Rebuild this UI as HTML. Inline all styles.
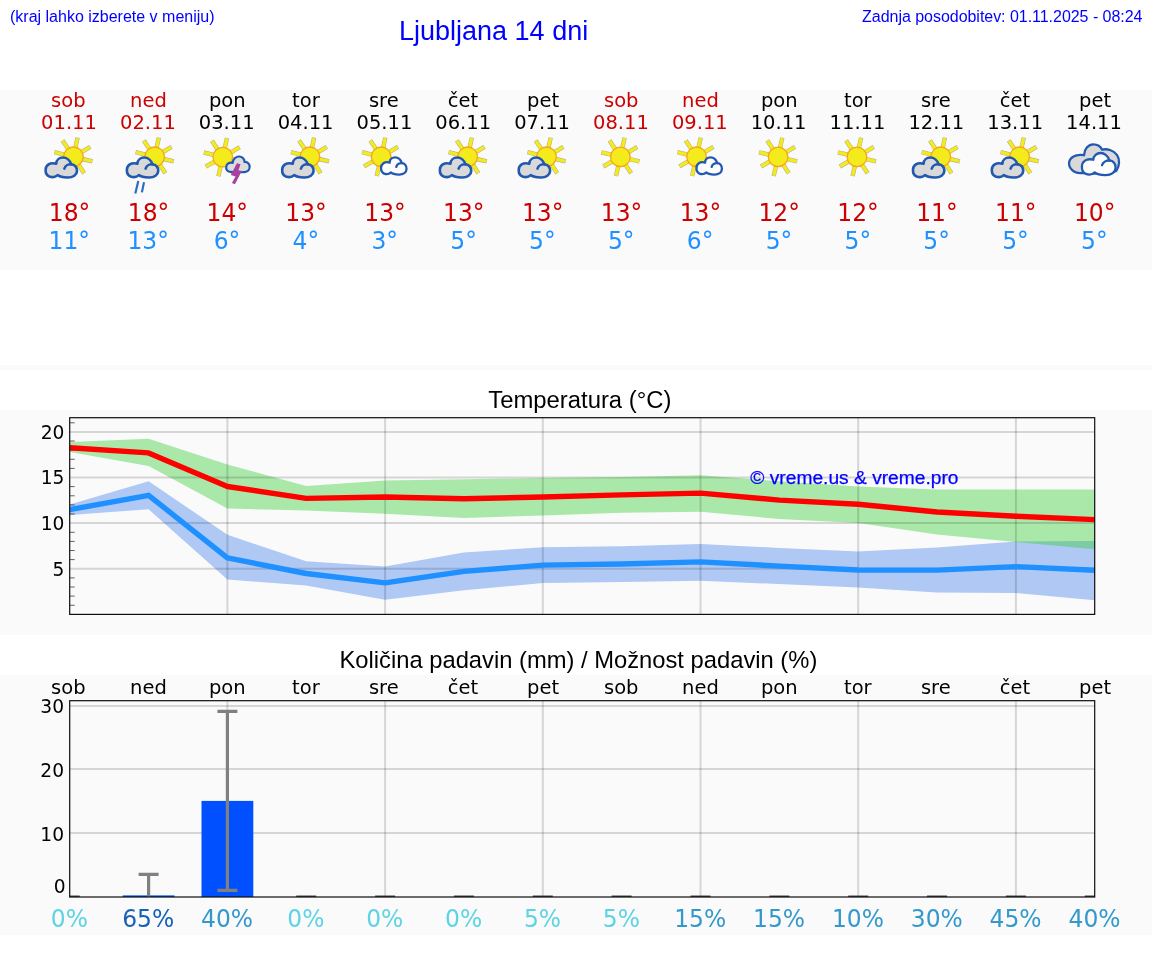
<!DOCTYPE html>
<html lang="sl"><head><meta charset="utf-8"><title>Ljubljana 14 dni</title>
<style>
html,body{margin:0;padding:0;background:#fff}
svg{display:block}
.dv{font-family:"DejaVu Sans","Liberation Sans",sans-serif}
.ar{font-family:"Liberation Sans",Arial,sans-serif}
</style></head><body>
<svg width="1152" height="975" viewBox="0 0 1152 975">
<rect width="1152" height="975" fill="#fff"/>
<rect x="0" y="90" width="1152" height="180" fill="#fafafa"/>
<rect x="0" y="365" width="1152" height="5" fill="#fafafa"/>
<rect x="0" y="410" width="1152" height="225" fill="#fafafa"/>
<rect x="0" y="675" width="1152" height="260" fill="#fafafa"/>
<g class="ar" fill="#0000ff">
<text x="10" y="21.5" font-size="16">(kraj lahko izberete v meniju)</text>
<text x="399" y="39.6" font-size="27">Ljubljana 14 dni</text>
<text x="1142.5" y="21.5" font-size="16" text-anchor="end" textLength="280.4">Zadnja posodobitev: 01.11.2025 - 08:24</text>
</g>
<g class="dv" text-anchor="middle">
<text transform="translate(68.3 106.7) scale(0.975 1)" font-size="20" fill="#cc0000">sob</text><text transform="translate(69.0 129.0) scale(0.975 1)" font-size="20" fill="#cc0000">01.11</text><text transform="translate(69.6 220.7) scale(0.975 1)" font-size="24" fill="#cc0000">18°</text><text transform="translate(69.3 248.7) scale(0.975 1)" font-size="24" fill="#1e90ff">11°</text>
<text transform="translate(148.4 106.7) scale(0.975 1)" font-size="20" fill="#cc0000">ned</text><text transform="translate(147.9 129.0) scale(0.975 1)" font-size="20" fill="#cc0000">02.11</text><text transform="translate(148.5 220.7) scale(0.975 1)" font-size="24" fill="#cc0000">18°</text><text transform="translate(148.2 248.7) scale(0.975 1)" font-size="24" fill="#1e90ff">13°</text>
<text transform="translate(227.3 106.7) scale(0.975 1)" font-size="20" fill="#000">pon</text><text transform="translate(226.7 129.0) scale(0.975 1)" font-size="20" fill="#000">03.11</text><text transform="translate(227.3 220.7) scale(0.975 1)" font-size="24" fill="#cc0000">14°</text><text transform="translate(227.0 248.7) scale(0.975 1)" font-size="24" fill="#1e90ff">6°</text>
<text transform="translate(305.9 106.7) scale(0.975 1)" font-size="20" fill="#000">tor</text><text transform="translate(305.6 129.0) scale(0.975 1)" font-size="20" fill="#000">04.11</text><text transform="translate(306.1 220.7) scale(0.975 1)" font-size="24" fill="#cc0000">13°</text><text transform="translate(305.9 248.7) scale(0.975 1)" font-size="24" fill="#1e90ff">4°</text>
<text transform="translate(383.8 106.7) scale(0.975 1)" font-size="20" fill="#000">sre</text><text transform="translate(384.4 129.0) scale(0.975 1)" font-size="20" fill="#000">05.11</text><text transform="translate(385.0 220.7) scale(0.975 1)" font-size="24" fill="#cc0000">13°</text><text transform="translate(384.7 248.7) scale(0.975 1)" font-size="24" fill="#1e90ff">3°</text>
<text transform="translate(463.0 106.7) scale(0.975 1)" font-size="20" fill="#000">čet</text><text transform="translate(463.2 129.0) scale(0.975 1)" font-size="20" fill="#000">06.11</text><text transform="translate(463.8 220.7) scale(0.975 1)" font-size="24" fill="#cc0000">13°</text><text transform="translate(463.6 248.7) scale(0.975 1)" font-size="24" fill="#1e90ff">5°</text>
<text transform="translate(543.1 106.7) scale(0.975 1)" font-size="20" fill="#000">pet</text><text transform="translate(542.1 129.0) scale(0.975 1)" font-size="20" fill="#000">07.11</text><text transform="translate(542.7 220.7) scale(0.975 1)" font-size="24" fill="#cc0000">13°</text><text transform="translate(542.4 248.7) scale(0.975 1)" font-size="24" fill="#1e90ff">5°</text>
<text transform="translate(621.2 106.7) scale(0.975 1)" font-size="20" fill="#cc0000">sob</text><text transform="translate(620.9 129.0) scale(0.975 1)" font-size="20" fill="#cc0000">08.11</text><text transform="translate(621.5 220.7) scale(0.975 1)" font-size="24" fill="#cc0000">13°</text><text transform="translate(621.2 248.7) scale(0.975 1)" font-size="24" fill="#1e90ff">5°</text>
<text transform="translate(700.4 106.7) scale(0.975 1)" font-size="20" fill="#cc0000">ned</text><text transform="translate(699.8 129.0) scale(0.975 1)" font-size="20" fill="#cc0000">09.11</text><text transform="translate(700.4 220.7) scale(0.975 1)" font-size="24" fill="#cc0000">13°</text><text transform="translate(700.1 248.7) scale(0.975 1)" font-size="24" fill="#1e90ff">6°</text>
<text transform="translate(779.3 106.7) scale(0.975 1)" font-size="20" fill="#000">pon</text><text transform="translate(778.6 129.0) scale(0.975 1)" font-size="20" fill="#000">10.11</text><text transform="translate(779.2 220.7) scale(0.975 1)" font-size="24" fill="#cc0000">12°</text><text transform="translate(779.0 248.7) scale(0.975 1)" font-size="24" fill="#1e90ff">5°</text>
<text transform="translate(857.8 106.7) scale(0.975 1)" font-size="20" fill="#000">tor</text><text transform="translate(857.5 129.0) scale(0.975 1)" font-size="20" fill="#000">11.11</text><text transform="translate(858.1 220.7) scale(0.975 1)" font-size="24" fill="#cc0000">12°</text><text transform="translate(857.8 248.7) scale(0.975 1)" font-size="24" fill="#1e90ff">5°</text>
<text transform="translate(935.8 106.7) scale(0.975 1)" font-size="20" fill="#000">sre</text><text transform="translate(936.3 129.0) scale(0.975 1)" font-size="20" fill="#000">12.11</text><text transform="translate(936.9 220.7) scale(0.975 1)" font-size="24" fill="#cc0000">11°</text><text transform="translate(936.6 248.7) scale(0.975 1)" font-size="24" fill="#1e90ff">5°</text>
<text transform="translate(1015.0 106.7) scale(0.975 1)" font-size="20" fill="#000">čet</text><text transform="translate(1015.2 129.0) scale(0.975 1)" font-size="20" fill="#000">13.11</text><text transform="translate(1015.8 220.7) scale(0.975 1)" font-size="24" fill="#cc0000">11°</text><text transform="translate(1015.5 248.7) scale(0.975 1)" font-size="24" fill="#1e90ff">5°</text>
<text transform="translate(1095.1 106.7) scale(0.975 1)" font-size="20" fill="#000">pet</text><text transform="translate(1094.0 129.0) scale(0.975 1)" font-size="20" fill="#000">14.11</text><text transform="translate(1094.7 220.7) scale(0.975 1)" font-size="24" fill="#cc0000">10°</text><text transform="translate(1094.3 248.7) scale(0.975 1)" font-size="24" fill="#1e90ff">5°</text>
</g>
<filter id="sf" x="-5%" y="-5%" width="110%" height="110%"><feGaussianBlur stdDeviation="0.35"/></filter>
<g filter="url(#sf)">
<line x1="75.42" y1="147.52" x2="77.58" y2="137.65" stroke="#b3b190" stroke-width="4.4"/><line x1="75.42" y1="147.52" x2="77.49" y2="138.04" stroke="#f3eb1c" stroke-width="3.3"/><line x1="81.59" y1="151.98" x2="90.29" y2="146.85" stroke="#b3b190" stroke-width="4.4"/><line x1="81.59" y1="151.98" x2="89.94" y2="147.06" stroke="#f3eb1c" stroke-width="3.3"/><line x1="82.64" y1="159.00" x2="92.47" y2="161.34" stroke="#b3b190" stroke-width="4.4"/><line x1="82.64" y1="159.00" x2="92.08" y2="161.25" stroke="#f3eb1c" stroke-width="3.3"/><line x1="78.60" y1="164.75" x2="84.13" y2="173.20" stroke="#b3b190" stroke-width="4.4"/><line x1="78.60" y1="164.75" x2="83.91" y2="172.87" stroke="#f3eb1c" stroke-width="3.3"/><line x1="71.26" y1="166.06" x2="68.99" y2="175.90" stroke="#b3b190" stroke-width="4.4"/><line x1="71.26" y1="166.06" x2="69.08" y2="175.51" stroke="#f3eb1c" stroke-width="3.3"/><line x1="65.11" y1="161.43" x2="56.29" y2="166.36" stroke="#b3b190" stroke-width="4.4"/><line x1="65.11" y1="161.43" x2="56.64" y2="166.17" stroke="#f3eb1c" stroke-width="3.3"/><line x1="64.17" y1="154.57" x2="54.35" y2="152.19" stroke="#b3b190" stroke-width="4.4"/><line x1="64.17" y1="154.57" x2="54.74" y2="152.29" stroke="#f3eb1c" stroke-width="3.3"/><line x1="68.13" y1="148.90" x2="62.53" y2="140.49" stroke="#b3b190" stroke-width="4.4"/><line x1="68.13" y1="148.90" x2="62.75" y2="140.83" stroke="#f3eb1c" stroke-width="3.3"/><circle cx="73.40" cy="156.80" r="9.8" fill="#f3eb1c" stroke="#f8a51d" stroke-width="1.3"/>
<path d="M 57.57 175.11 C 55.54 177.08 51.85 177.38 49.38 176.46 C 46.62 175.35 45.51 172.77 45.63 169.69 C 45.75 165.38 49.69 162.00 56.22 163.66 C 56.34 159.85 59.54 157.57 62.92 157.57 C 66.62 157.57 70.00 160.46 71.23 164.28 C 74.92 164.28 77.14 167.54 77.02 170.92 C 76.89 174.92 73.08 177.69 67.54 177.57 C 63.23 177.45 59.54 176.77 57.57 175.11 Z" fill="#d9d9d9" stroke="#2158b0" stroke-width="2.6" stroke-linejoin="round"/><path d="M 71.54 164.40 C 68.77 164.03 65.38 165.38 64.34 168.58" fill="none" stroke="#2158b0" stroke-width="2.6" stroke-linecap="round"/>
<line x1="156.67" y1="147.52" x2="158.83" y2="137.65" stroke="#b3b190" stroke-width="4.4"/><line x1="156.67" y1="147.52" x2="158.74" y2="138.04" stroke="#f3eb1c" stroke-width="3.3"/><line x1="162.84" y1="151.98" x2="171.54" y2="146.85" stroke="#b3b190" stroke-width="4.4"/><line x1="162.84" y1="151.98" x2="171.19" y2="147.06" stroke="#f3eb1c" stroke-width="3.3"/><line x1="163.89" y1="159.00" x2="173.72" y2="161.34" stroke="#b3b190" stroke-width="4.4"/><line x1="163.89" y1="159.00" x2="173.33" y2="161.25" stroke="#f3eb1c" stroke-width="3.3"/><line x1="159.85" y1="164.75" x2="165.38" y2="173.20" stroke="#b3b190" stroke-width="4.4"/><line x1="159.85" y1="164.75" x2="165.16" y2="172.87" stroke="#f3eb1c" stroke-width="3.3"/><line x1="152.51" y1="166.06" x2="150.24" y2="175.90" stroke="#b3b190" stroke-width="4.4"/><line x1="152.51" y1="166.06" x2="150.33" y2="175.51" stroke="#f3eb1c" stroke-width="3.3"/><line x1="146.36" y1="161.43" x2="137.54" y2="166.36" stroke="#b3b190" stroke-width="4.4"/><line x1="146.36" y1="161.43" x2="137.89" y2="166.17" stroke="#f3eb1c" stroke-width="3.3"/><line x1="145.42" y1="154.57" x2="135.60" y2="152.19" stroke="#b3b190" stroke-width="4.4"/><line x1="145.42" y1="154.57" x2="135.99" y2="152.29" stroke="#f3eb1c" stroke-width="3.3"/><line x1="149.38" y1="148.90" x2="143.78" y2="140.49" stroke="#b3b190" stroke-width="4.4"/><line x1="149.38" y1="148.90" x2="144.00" y2="140.83" stroke="#f3eb1c" stroke-width="3.3"/><circle cx="154.65" cy="156.80" r="9.8" fill="#f3eb1c" stroke="#f8a51d" stroke-width="1.3"/>
<path d="M 138.82 175.11 C 136.79 177.08 133.10 177.38 130.63 176.46 C 127.87 175.35 126.76 172.77 126.88 169.69 C 127.00 165.38 130.94 162.00 137.47 163.66 C 137.59 159.85 140.79 157.57 144.17 157.57 C 147.87 157.57 151.25 160.46 152.48 164.28 C 156.17 164.28 158.39 167.54 158.27 170.92 C 158.14 174.92 154.33 177.69 148.79 177.57 C 144.48 177.45 140.79 176.77 138.82 175.11 Z" fill="#d9d9d9" stroke="#2158b0" stroke-width="2.6" stroke-linejoin="round"/><path d="M 152.79 164.40 C 150.02 164.03 146.63 165.38 145.59 168.58" fill="none" stroke="#2158b0" stroke-width="2.6" stroke-linecap="round"/>
<path d="M 138.3 181 L 135.3 193.6 M 144.0 182.2 L 141.9 192.4" stroke="#2f6cc0" stroke-width="2.2" fill="none"/>
<line x1="224.82" y1="147.82" x2="226.98" y2="137.95" stroke="#b3b190" stroke-width="4.4"/><line x1="224.82" y1="147.82" x2="226.89" y2="138.34" stroke="#f3eb1c" stroke-width="3.3"/><line x1="230.99" y1="152.28" x2="239.69" y2="147.15" stroke="#b3b190" stroke-width="4.4"/><line x1="230.99" y1="152.28" x2="239.34" y2="147.36" stroke="#f3eb1c" stroke-width="3.3"/><line x1="232.04" y1="159.30" x2="241.87" y2="161.64" stroke="#b3b190" stroke-width="4.4"/><line x1="232.04" y1="159.30" x2="241.48" y2="161.55" stroke="#f3eb1c" stroke-width="3.3"/><line x1="228.00" y1="165.05" x2="233.53" y2="173.50" stroke="#b3b190" stroke-width="4.4"/><line x1="228.00" y1="165.05" x2="233.31" y2="173.17" stroke="#f3eb1c" stroke-width="3.3"/><line x1="220.66" y1="166.36" x2="218.39" y2="176.20" stroke="#b3b190" stroke-width="4.4"/><line x1="220.66" y1="166.36" x2="218.48" y2="175.81" stroke="#f3eb1c" stroke-width="3.3"/><line x1="214.51" y1="161.73" x2="205.69" y2="166.66" stroke="#b3b190" stroke-width="4.4"/><line x1="214.51" y1="161.73" x2="206.04" y2="166.47" stroke="#f3eb1c" stroke-width="3.3"/><line x1="213.57" y1="154.87" x2="203.75" y2="152.49" stroke="#b3b190" stroke-width="4.4"/><line x1="213.57" y1="154.87" x2="204.14" y2="152.59" stroke="#f3eb1c" stroke-width="3.3"/><line x1="217.53" y1="149.20" x2="211.93" y2="140.79" stroke="#b3b190" stroke-width="4.4"/><line x1="217.53" y1="149.20" x2="212.15" y2="141.13" stroke="#f3eb1c" stroke-width="3.3"/><circle cx="222.80" cy="157.10" r="9.8" fill="#f3eb1c" stroke="#f8a51d" stroke-width="1.3"/>
<path d="M 230.23 171.85 C 227.15 171.66 225.80 169.08 226.23 166.62 C 226.66 163.54 229.62 162.00 232.69 162.92 C 233.00 158.62 236.38 156.28 239.46 156.52 C 242.85 156.77 244.69 159.54 244.51 162.00 C 247.46 161.69 249.80 164.15 249.62 167.23 C 249.43 170.31 246.85 172.15 243.77 172.03 C 240.08 172.46 233.92 172.15 230.23 171.85 Z" fill="#dcdcdc" stroke="#2158b0" stroke-width="2.2" stroke-linejoin="round"/><path d="M 236.88 163.29 L 240.57 164.15 L 238.35 170.18 L 241.80 170.92 L 234.91 184.15 L 231.95 183.11 L 235.52 176.46 L 230.85 175.11 Z" fill="#a7409e"/>
<line x1="311.97" y1="147.52" x2="314.13" y2="137.65" stroke="#b3b190" stroke-width="4.4"/><line x1="311.97" y1="147.52" x2="314.04" y2="138.04" stroke="#f3eb1c" stroke-width="3.3"/><line x1="318.14" y1="151.98" x2="326.84" y2="146.85" stroke="#b3b190" stroke-width="4.4"/><line x1="318.14" y1="151.98" x2="326.49" y2="147.06" stroke="#f3eb1c" stroke-width="3.3"/><line x1="319.19" y1="159.00" x2="329.02" y2="161.34" stroke="#b3b190" stroke-width="4.4"/><line x1="319.19" y1="159.00" x2="328.63" y2="161.25" stroke="#f3eb1c" stroke-width="3.3"/><line x1="315.15" y1="164.75" x2="320.68" y2="173.20" stroke="#b3b190" stroke-width="4.4"/><line x1="315.15" y1="164.75" x2="320.46" y2="172.87" stroke="#f3eb1c" stroke-width="3.3"/><line x1="307.81" y1="166.06" x2="305.54" y2="175.90" stroke="#b3b190" stroke-width="4.4"/><line x1="307.81" y1="166.06" x2="305.63" y2="175.51" stroke="#f3eb1c" stroke-width="3.3"/><line x1="301.66" y1="161.43" x2="292.84" y2="166.36" stroke="#b3b190" stroke-width="4.4"/><line x1="301.66" y1="161.43" x2="293.19" y2="166.17" stroke="#f3eb1c" stroke-width="3.3"/><line x1="300.72" y1="154.57" x2="290.90" y2="152.19" stroke="#b3b190" stroke-width="4.4"/><line x1="300.72" y1="154.57" x2="291.29" y2="152.29" stroke="#f3eb1c" stroke-width="3.3"/><line x1="304.68" y1="148.90" x2="299.08" y2="140.49" stroke="#b3b190" stroke-width="4.4"/><line x1="304.68" y1="148.90" x2="299.30" y2="140.83" stroke="#f3eb1c" stroke-width="3.3"/><circle cx="309.95" cy="156.80" r="9.8" fill="#f3eb1c" stroke="#f8a51d" stroke-width="1.3"/>
<path d="M 294.12 175.11 C 292.09 177.08 288.40 177.38 285.93 176.46 C 283.17 175.35 282.06 172.77 282.18 169.69 C 282.30 165.38 286.24 162.00 292.77 163.66 C 292.89 159.85 296.09 157.57 299.47 157.57 C 303.17 157.57 306.55 160.46 307.78 164.28 C 311.47 164.28 313.69 167.54 313.57 170.92 C 313.44 174.92 309.63 177.69 304.09 177.57 C 299.78 177.45 296.09 176.77 294.12 175.11 Z" fill="#d9d9d9" stroke="#2158b0" stroke-width="2.6" stroke-linejoin="round"/><path d="M 308.09 164.40 C 305.32 164.03 301.93 165.38 300.89 168.58" fill="none" stroke="#2158b0" stroke-width="2.6" stroke-linecap="round"/>
<line x1="383.17" y1="147.52" x2="385.33" y2="137.65" stroke="#b3b190" stroke-width="4.4"/><line x1="383.17" y1="147.52" x2="385.24" y2="138.04" stroke="#f3eb1c" stroke-width="3.3"/><line x1="389.34" y1="151.98" x2="398.04" y2="146.85" stroke="#b3b190" stroke-width="4.4"/><line x1="389.34" y1="151.98" x2="397.69" y2="147.06" stroke="#f3eb1c" stroke-width="3.3"/><line x1="390.39" y1="159.00" x2="400.22" y2="161.34" stroke="#b3b190" stroke-width="4.4"/><line x1="390.39" y1="159.00" x2="399.83" y2="161.25" stroke="#f3eb1c" stroke-width="3.3"/><line x1="386.35" y1="164.75" x2="391.88" y2="173.20" stroke="#b3b190" stroke-width="4.4"/><line x1="386.35" y1="164.75" x2="391.66" y2="172.87" stroke="#f3eb1c" stroke-width="3.3"/><line x1="379.01" y1="166.06" x2="376.74" y2="175.90" stroke="#b3b190" stroke-width="4.4"/><line x1="379.01" y1="166.06" x2="376.83" y2="175.51" stroke="#f3eb1c" stroke-width="3.3"/><line x1="372.86" y1="161.43" x2="364.04" y2="166.36" stroke="#b3b190" stroke-width="4.4"/><line x1="372.86" y1="161.43" x2="364.39" y2="166.17" stroke="#f3eb1c" stroke-width="3.3"/><line x1="371.92" y1="154.57" x2="362.10" y2="152.19" stroke="#b3b190" stroke-width="4.4"/><line x1="371.92" y1="154.57" x2="362.49" y2="152.29" stroke="#f3eb1c" stroke-width="3.3"/><line x1="375.88" y1="148.90" x2="370.28" y2="140.49" stroke="#b3b190" stroke-width="4.4"/><line x1="375.88" y1="148.90" x2="370.50" y2="140.83" stroke="#f3eb1c" stroke-width="3.3"/><circle cx="381.15" cy="156.80" r="9.8" fill="#f3eb1c" stroke="#f8a51d" stroke-width="1.3"/>
<path d="M 390.75 172.45 C 389.11 174.15 386.11 174.41 384.11 173.62 C 381.87 172.66 380.97 170.43 381.07 167.78 C 381.17 164.06 384.36 161.14 389.66 162.58 C 389.76 159.29 392.35 157.32 395.10 157.32 C 398.09 157.32 400.84 159.82 401.84 163.11 C 404.83 163.11 406.63 165.92 406.53 168.84 C 406.43 172.29 403.34 174.68 398.84 174.57 C 395.35 174.46 392.35 173.88 390.75 172.45 Z" fill="#fdfdfd" stroke="#2158b0" stroke-width="2.3" stroke-linejoin="round"/><path d="M 402.09 163.21 C 399.84 162.90 397.10 164.06 396.25 166.82" fill="none" stroke="#2158b0" stroke-width="2.3" stroke-linecap="round"/>
<line x1="469.67" y1="147.52" x2="471.83" y2="137.65" stroke="#b3b190" stroke-width="4.4"/><line x1="469.67" y1="147.52" x2="471.74" y2="138.04" stroke="#f3eb1c" stroke-width="3.3"/><line x1="475.84" y1="151.98" x2="484.54" y2="146.85" stroke="#b3b190" stroke-width="4.4"/><line x1="475.84" y1="151.98" x2="484.19" y2="147.06" stroke="#f3eb1c" stroke-width="3.3"/><line x1="476.89" y1="159.00" x2="486.72" y2="161.34" stroke="#b3b190" stroke-width="4.4"/><line x1="476.89" y1="159.00" x2="486.33" y2="161.25" stroke="#f3eb1c" stroke-width="3.3"/><line x1="472.85" y1="164.75" x2="478.38" y2="173.20" stroke="#b3b190" stroke-width="4.4"/><line x1="472.85" y1="164.75" x2="478.16" y2="172.87" stroke="#f3eb1c" stroke-width="3.3"/><line x1="465.51" y1="166.06" x2="463.24" y2="175.90" stroke="#b3b190" stroke-width="4.4"/><line x1="465.51" y1="166.06" x2="463.33" y2="175.51" stroke="#f3eb1c" stroke-width="3.3"/><line x1="459.36" y1="161.43" x2="450.54" y2="166.36" stroke="#b3b190" stroke-width="4.4"/><line x1="459.36" y1="161.43" x2="450.89" y2="166.17" stroke="#f3eb1c" stroke-width="3.3"/><line x1="458.42" y1="154.57" x2="448.60" y2="152.19" stroke="#b3b190" stroke-width="4.4"/><line x1="458.42" y1="154.57" x2="448.99" y2="152.29" stroke="#f3eb1c" stroke-width="3.3"/><line x1="462.38" y1="148.90" x2="456.78" y2="140.49" stroke="#b3b190" stroke-width="4.4"/><line x1="462.38" y1="148.90" x2="457.00" y2="140.83" stroke="#f3eb1c" stroke-width="3.3"/><circle cx="467.65" cy="156.80" r="9.8" fill="#f3eb1c" stroke="#f8a51d" stroke-width="1.3"/>
<path d="M 451.82 175.11 C 449.79 177.08 446.10 177.38 443.63 176.46 C 440.87 175.35 439.76 172.77 439.88 169.69 C 440.00 165.38 443.94 162.00 450.47 163.66 C 450.59 159.85 453.79 157.57 457.17 157.57 C 460.87 157.57 464.25 160.46 465.48 164.28 C 469.17 164.28 471.39 167.54 471.27 170.92 C 471.14 174.92 467.33 177.69 461.79 177.57 C 457.48 177.45 453.79 176.77 451.82 175.11 Z" fill="#d9d9d9" stroke="#2158b0" stroke-width="2.6" stroke-linejoin="round"/><path d="M 465.79 164.40 C 463.02 164.03 459.63 165.38 458.59 168.58" fill="none" stroke="#2158b0" stroke-width="2.6" stroke-linecap="round"/>
<line x1="548.52" y1="147.52" x2="550.68" y2="137.65" stroke="#b3b190" stroke-width="4.4"/><line x1="548.52" y1="147.52" x2="550.59" y2="138.04" stroke="#f3eb1c" stroke-width="3.3"/><line x1="554.69" y1="151.98" x2="563.39" y2="146.85" stroke="#b3b190" stroke-width="4.4"/><line x1="554.69" y1="151.98" x2="563.04" y2="147.06" stroke="#f3eb1c" stroke-width="3.3"/><line x1="555.74" y1="159.00" x2="565.57" y2="161.34" stroke="#b3b190" stroke-width="4.4"/><line x1="555.74" y1="159.00" x2="565.18" y2="161.25" stroke="#f3eb1c" stroke-width="3.3"/><line x1="551.70" y1="164.75" x2="557.23" y2="173.20" stroke="#b3b190" stroke-width="4.4"/><line x1="551.70" y1="164.75" x2="557.01" y2="172.87" stroke="#f3eb1c" stroke-width="3.3"/><line x1="544.36" y1="166.06" x2="542.09" y2="175.90" stroke="#b3b190" stroke-width="4.4"/><line x1="544.36" y1="166.06" x2="542.18" y2="175.51" stroke="#f3eb1c" stroke-width="3.3"/><line x1="538.21" y1="161.43" x2="529.39" y2="166.36" stroke="#b3b190" stroke-width="4.4"/><line x1="538.21" y1="161.43" x2="529.74" y2="166.17" stroke="#f3eb1c" stroke-width="3.3"/><line x1="537.27" y1="154.57" x2="527.45" y2="152.19" stroke="#b3b190" stroke-width="4.4"/><line x1="537.27" y1="154.57" x2="527.84" y2="152.29" stroke="#f3eb1c" stroke-width="3.3"/><line x1="541.23" y1="148.90" x2="535.63" y2="140.49" stroke="#b3b190" stroke-width="4.4"/><line x1="541.23" y1="148.90" x2="535.85" y2="140.83" stroke="#f3eb1c" stroke-width="3.3"/><circle cx="546.50" cy="156.80" r="9.8" fill="#f3eb1c" stroke="#f8a51d" stroke-width="1.3"/>
<path d="M 530.67 175.11 C 528.64 177.08 524.95 177.38 522.48 176.46 C 519.72 175.35 518.61 172.77 518.73 169.69 C 518.85 165.38 522.79 162.00 529.32 163.66 C 529.44 159.85 532.64 157.57 536.02 157.57 C 539.72 157.57 543.10 160.46 544.33 164.28 C 548.02 164.28 550.24 167.54 550.12 170.92 C 549.99 174.92 546.18 177.69 540.64 177.57 C 536.33 177.45 532.64 176.77 530.67 175.11 Z" fill="#d9d9d9" stroke="#2158b0" stroke-width="2.6" stroke-linejoin="round"/><path d="M 544.64 164.40 C 541.87 164.03 538.48 165.38 537.44 168.58" fill="none" stroke="#2158b0" stroke-width="2.6" stroke-linecap="round"/>
<line x1="622.42" y1="147.62" x2="624.58" y2="137.75" stroke="#b3b190" stroke-width="4.4"/><line x1="622.42" y1="147.62" x2="624.49" y2="138.14" stroke="#f3eb1c" stroke-width="3.3"/><line x1="628.59" y1="152.08" x2="637.29" y2="146.95" stroke="#b3b190" stroke-width="4.4"/><line x1="628.59" y1="152.08" x2="636.94" y2="147.16" stroke="#f3eb1c" stroke-width="3.3"/><line x1="629.64" y1="159.10" x2="639.47" y2="161.44" stroke="#b3b190" stroke-width="4.4"/><line x1="629.64" y1="159.10" x2="639.08" y2="161.35" stroke="#f3eb1c" stroke-width="3.3"/><line x1="625.60" y1="164.85" x2="631.13" y2="173.30" stroke="#b3b190" stroke-width="4.4"/><line x1="625.60" y1="164.85" x2="630.91" y2="172.97" stroke="#f3eb1c" stroke-width="3.3"/><line x1="618.26" y1="166.16" x2="615.99" y2="176.00" stroke="#b3b190" stroke-width="4.4"/><line x1="618.26" y1="166.16" x2="616.08" y2="175.61" stroke="#f3eb1c" stroke-width="3.3"/><line x1="612.11" y1="161.53" x2="603.29" y2="166.46" stroke="#b3b190" stroke-width="4.4"/><line x1="612.11" y1="161.53" x2="603.64" y2="166.27" stroke="#f3eb1c" stroke-width="3.3"/><line x1="611.17" y1="154.67" x2="601.35" y2="152.29" stroke="#b3b190" stroke-width="4.4"/><line x1="611.17" y1="154.67" x2="601.74" y2="152.39" stroke="#f3eb1c" stroke-width="3.3"/><line x1="615.13" y1="149.00" x2="609.53" y2="140.59" stroke="#b3b190" stroke-width="4.4"/><line x1="615.13" y1="149.00" x2="609.75" y2="140.93" stroke="#f3eb1c" stroke-width="3.3"/><circle cx="620.40" cy="156.90" r="9.8" fill="#f3eb1c" stroke="#f8a51d" stroke-width="1.3"/>
<line x1="698.57" y1="147.52" x2="700.73" y2="137.65" stroke="#b3b190" stroke-width="4.4"/><line x1="698.57" y1="147.52" x2="700.64" y2="138.04" stroke="#f3eb1c" stroke-width="3.3"/><line x1="704.74" y1="151.98" x2="713.44" y2="146.85" stroke="#b3b190" stroke-width="4.4"/><line x1="704.74" y1="151.98" x2="713.09" y2="147.06" stroke="#f3eb1c" stroke-width="3.3"/><line x1="705.79" y1="159.00" x2="715.62" y2="161.34" stroke="#b3b190" stroke-width="4.4"/><line x1="705.79" y1="159.00" x2="715.23" y2="161.25" stroke="#f3eb1c" stroke-width="3.3"/><line x1="701.75" y1="164.75" x2="707.28" y2="173.20" stroke="#b3b190" stroke-width="4.4"/><line x1="701.75" y1="164.75" x2="707.06" y2="172.87" stroke="#f3eb1c" stroke-width="3.3"/><line x1="694.41" y1="166.06" x2="692.14" y2="175.90" stroke="#b3b190" stroke-width="4.4"/><line x1="694.41" y1="166.06" x2="692.23" y2="175.51" stroke="#f3eb1c" stroke-width="3.3"/><line x1="688.26" y1="161.43" x2="679.44" y2="166.36" stroke="#b3b190" stroke-width="4.4"/><line x1="688.26" y1="161.43" x2="679.79" y2="166.17" stroke="#f3eb1c" stroke-width="3.3"/><line x1="687.32" y1="154.57" x2="677.50" y2="152.19" stroke="#b3b190" stroke-width="4.4"/><line x1="687.32" y1="154.57" x2="677.89" y2="152.29" stroke="#f3eb1c" stroke-width="3.3"/><line x1="691.28" y1="148.90" x2="685.68" y2="140.49" stroke="#b3b190" stroke-width="4.4"/><line x1="691.28" y1="148.90" x2="685.90" y2="140.83" stroke="#f3eb1c" stroke-width="3.3"/><circle cx="696.55" cy="156.80" r="9.8" fill="#f3eb1c" stroke="#f8a51d" stroke-width="1.3"/>
<path d="M 706.15 172.45 C 704.51 174.15 701.51 174.41 699.51 173.62 C 697.27 172.66 696.37 170.43 696.47 167.78 C 696.57 164.06 699.76 161.14 705.06 162.58 C 705.16 159.29 707.75 157.32 710.50 157.32 C 713.49 157.32 716.24 159.82 717.24 163.11 C 720.23 163.11 722.03 165.92 721.93 168.84 C 721.83 172.29 718.74 174.68 714.24 174.57 C 710.75 174.46 707.75 173.88 706.15 172.45 Z" fill="#fdfdfd" stroke="#2158b0" stroke-width="2.3" stroke-linejoin="round"/><path d="M 717.49 163.21 C 715.24 162.90 712.50 164.06 711.65 166.82" fill="none" stroke="#2158b0" stroke-width="2.3" stroke-linecap="round"/>
<line x1="780.12" y1="147.62" x2="782.28" y2="137.75" stroke="#b3b190" stroke-width="4.4"/><line x1="780.12" y1="147.62" x2="782.19" y2="138.14" stroke="#f3eb1c" stroke-width="3.3"/><line x1="786.29" y1="152.08" x2="794.99" y2="146.95" stroke="#b3b190" stroke-width="4.4"/><line x1="786.29" y1="152.08" x2="794.64" y2="147.16" stroke="#f3eb1c" stroke-width="3.3"/><line x1="787.34" y1="159.10" x2="797.17" y2="161.44" stroke="#b3b190" stroke-width="4.4"/><line x1="787.34" y1="159.10" x2="796.78" y2="161.35" stroke="#f3eb1c" stroke-width="3.3"/><line x1="783.30" y1="164.85" x2="788.83" y2="173.30" stroke="#b3b190" stroke-width="4.4"/><line x1="783.30" y1="164.85" x2="788.61" y2="172.97" stroke="#f3eb1c" stroke-width="3.3"/><line x1="775.96" y1="166.16" x2="773.69" y2="176.00" stroke="#b3b190" stroke-width="4.4"/><line x1="775.96" y1="166.16" x2="773.78" y2="175.61" stroke="#f3eb1c" stroke-width="3.3"/><line x1="769.81" y1="161.53" x2="760.99" y2="166.46" stroke="#b3b190" stroke-width="4.4"/><line x1="769.81" y1="161.53" x2="761.34" y2="166.27" stroke="#f3eb1c" stroke-width="3.3"/><line x1="768.87" y1="154.67" x2="759.05" y2="152.29" stroke="#b3b190" stroke-width="4.4"/><line x1="768.87" y1="154.67" x2="759.44" y2="152.39" stroke="#f3eb1c" stroke-width="3.3"/><line x1="772.83" y1="149.00" x2="767.23" y2="140.59" stroke="#b3b190" stroke-width="4.4"/><line x1="772.83" y1="149.00" x2="767.45" y2="140.93" stroke="#f3eb1c" stroke-width="3.3"/><circle cx="778.10" cy="156.90" r="9.8" fill="#f3eb1c" stroke="#f8a51d" stroke-width="1.3"/>
<line x1="858.97" y1="147.62" x2="861.13" y2="137.75" stroke="#b3b190" stroke-width="4.4"/><line x1="858.97" y1="147.62" x2="861.04" y2="138.14" stroke="#f3eb1c" stroke-width="3.3"/><line x1="865.14" y1="152.08" x2="873.84" y2="146.95" stroke="#b3b190" stroke-width="4.4"/><line x1="865.14" y1="152.08" x2="873.49" y2="147.16" stroke="#f3eb1c" stroke-width="3.3"/><line x1="866.19" y1="159.10" x2="876.02" y2="161.44" stroke="#b3b190" stroke-width="4.4"/><line x1="866.19" y1="159.10" x2="875.63" y2="161.35" stroke="#f3eb1c" stroke-width="3.3"/><line x1="862.15" y1="164.85" x2="867.68" y2="173.30" stroke="#b3b190" stroke-width="4.4"/><line x1="862.15" y1="164.85" x2="867.46" y2="172.97" stroke="#f3eb1c" stroke-width="3.3"/><line x1="854.81" y1="166.16" x2="852.54" y2="176.00" stroke="#b3b190" stroke-width="4.4"/><line x1="854.81" y1="166.16" x2="852.63" y2="175.61" stroke="#f3eb1c" stroke-width="3.3"/><line x1="848.66" y1="161.53" x2="839.84" y2="166.46" stroke="#b3b190" stroke-width="4.4"/><line x1="848.66" y1="161.53" x2="840.19" y2="166.27" stroke="#f3eb1c" stroke-width="3.3"/><line x1="847.72" y1="154.67" x2="837.90" y2="152.29" stroke="#b3b190" stroke-width="4.4"/><line x1="847.72" y1="154.67" x2="838.29" y2="152.39" stroke="#f3eb1c" stroke-width="3.3"/><line x1="851.68" y1="149.00" x2="846.08" y2="140.59" stroke="#b3b190" stroke-width="4.4"/><line x1="851.68" y1="149.00" x2="846.30" y2="140.93" stroke="#f3eb1c" stroke-width="3.3"/><circle cx="856.95" cy="156.90" r="9.8" fill="#f3eb1c" stroke="#f8a51d" stroke-width="1.3"/>
<line x1="942.77" y1="147.52" x2="944.93" y2="137.65" stroke="#b3b190" stroke-width="4.4"/><line x1="942.77" y1="147.52" x2="944.84" y2="138.04" stroke="#f3eb1c" stroke-width="3.3"/><line x1="948.94" y1="151.98" x2="957.64" y2="146.85" stroke="#b3b190" stroke-width="4.4"/><line x1="948.94" y1="151.98" x2="957.29" y2="147.06" stroke="#f3eb1c" stroke-width="3.3"/><line x1="949.99" y1="159.00" x2="959.82" y2="161.34" stroke="#b3b190" stroke-width="4.4"/><line x1="949.99" y1="159.00" x2="959.43" y2="161.25" stroke="#f3eb1c" stroke-width="3.3"/><line x1="945.95" y1="164.75" x2="951.48" y2="173.20" stroke="#b3b190" stroke-width="4.4"/><line x1="945.95" y1="164.75" x2="951.26" y2="172.87" stroke="#f3eb1c" stroke-width="3.3"/><line x1="938.61" y1="166.06" x2="936.34" y2="175.90" stroke="#b3b190" stroke-width="4.4"/><line x1="938.61" y1="166.06" x2="936.43" y2="175.51" stroke="#f3eb1c" stroke-width="3.3"/><line x1="932.46" y1="161.43" x2="923.64" y2="166.36" stroke="#b3b190" stroke-width="4.4"/><line x1="932.46" y1="161.43" x2="923.99" y2="166.17" stroke="#f3eb1c" stroke-width="3.3"/><line x1="931.52" y1="154.57" x2="921.70" y2="152.19" stroke="#b3b190" stroke-width="4.4"/><line x1="931.52" y1="154.57" x2="922.09" y2="152.29" stroke="#f3eb1c" stroke-width="3.3"/><line x1="935.48" y1="148.90" x2="929.88" y2="140.49" stroke="#b3b190" stroke-width="4.4"/><line x1="935.48" y1="148.90" x2="930.10" y2="140.83" stroke="#f3eb1c" stroke-width="3.3"/><circle cx="940.75" cy="156.80" r="9.8" fill="#f3eb1c" stroke="#f8a51d" stroke-width="1.3"/>
<path d="M 924.92 175.11 C 922.89 177.08 919.20 177.38 916.73 176.46 C 913.97 175.35 912.86 172.77 912.98 169.69 C 913.10 165.38 917.04 162.00 923.57 163.66 C 923.69 159.85 926.89 157.57 930.27 157.57 C 933.97 157.57 937.35 160.46 938.58 164.28 C 942.27 164.28 944.49 167.54 944.37 170.92 C 944.24 174.92 940.43 177.69 934.89 177.57 C 930.58 177.45 926.89 176.77 924.92 175.11 Z" fill="#d9d9d9" stroke="#2158b0" stroke-width="2.6" stroke-linejoin="round"/><path d="M 938.89 164.40 C 936.12 164.03 932.73 165.38 931.69 168.58" fill="none" stroke="#2158b0" stroke-width="2.6" stroke-linecap="round"/>
<line x1="1021.62" y1="147.52" x2="1023.78" y2="137.65" stroke="#b3b190" stroke-width="4.4"/><line x1="1021.62" y1="147.52" x2="1023.69" y2="138.04" stroke="#f3eb1c" stroke-width="3.3"/><line x1="1027.79" y1="151.98" x2="1036.49" y2="146.85" stroke="#b3b190" stroke-width="4.4"/><line x1="1027.79" y1="151.98" x2="1036.14" y2="147.06" stroke="#f3eb1c" stroke-width="3.3"/><line x1="1028.84" y1="159.00" x2="1038.67" y2="161.34" stroke="#b3b190" stroke-width="4.4"/><line x1="1028.84" y1="159.00" x2="1038.28" y2="161.25" stroke="#f3eb1c" stroke-width="3.3"/><line x1="1024.80" y1="164.75" x2="1030.33" y2="173.20" stroke="#b3b190" stroke-width="4.4"/><line x1="1024.80" y1="164.75" x2="1030.11" y2="172.87" stroke="#f3eb1c" stroke-width="3.3"/><line x1="1017.46" y1="166.06" x2="1015.19" y2="175.90" stroke="#b3b190" stroke-width="4.4"/><line x1="1017.46" y1="166.06" x2="1015.28" y2="175.51" stroke="#f3eb1c" stroke-width="3.3"/><line x1="1011.31" y1="161.43" x2="1002.49" y2="166.36" stroke="#b3b190" stroke-width="4.4"/><line x1="1011.31" y1="161.43" x2="1002.84" y2="166.17" stroke="#f3eb1c" stroke-width="3.3"/><line x1="1010.37" y1="154.57" x2="1000.55" y2="152.19" stroke="#b3b190" stroke-width="4.4"/><line x1="1010.37" y1="154.57" x2="1000.94" y2="152.29" stroke="#f3eb1c" stroke-width="3.3"/><line x1="1014.33" y1="148.90" x2="1008.73" y2="140.49" stroke="#b3b190" stroke-width="4.4"/><line x1="1014.33" y1="148.90" x2="1008.95" y2="140.83" stroke="#f3eb1c" stroke-width="3.3"/><circle cx="1019.60" cy="156.80" r="9.8" fill="#f3eb1c" stroke="#f8a51d" stroke-width="1.3"/>
<path d="M 1003.77 175.11 C 1001.74 177.08 998.05 177.38 995.58 176.46 C 992.82 175.35 991.71 172.77 991.83 169.69 C 991.95 165.38 995.89 162.00 1002.42 163.66 C 1002.54 159.85 1005.74 157.57 1009.12 157.57 C 1012.82 157.57 1016.20 160.46 1017.43 164.28 C 1021.12 164.28 1023.34 167.54 1023.22 170.92 C 1023.09 174.92 1019.28 177.69 1013.74 177.57 C 1009.43 177.45 1005.74 176.77 1003.77 175.11 Z" fill="#d9d9d9" stroke="#2158b0" stroke-width="2.6" stroke-linejoin="round"/><path d="M 1017.74 164.40 C 1014.97 164.03 1011.58 165.38 1010.54 168.58" fill="none" stroke="#2158b0" stroke-width="2.6" stroke-linecap="round"/>
<path d="M 1082.46 172.77 C 1076.31 174.00 1069.23 170.31 1069.05 163.54 C 1068.92 158.00 1075.08 153.69 1084.00 155.23 C 1084.31 148.77 1088.62 144.34 1093.23 144.34 C 1097.54 144.34 1100.92 146.92 1102.15 149.69 C 1107.08 148.46 1113.23 150.00 1116.92 154.92 C 1120.00 159.23 1119.69 166.00 1116.31 170.92 L 1107.08 174.00 Z" fill="#d9d9d9" stroke="#2158b0" stroke-width="2.3" stroke-linejoin="round"/><path d="M 1094.74 172.43 C 1092.56 174.61 1088.59 174.95 1085.95 173.93 C 1082.97 172.70 1081.78 169.84 1081.92 166.44 C 1082.05 161.67 1086.28 157.92 1093.28 159.76 C 1093.42 155.54 1096.85 153.02 1100.49 153.02 C 1104.45 153.02 1108.09 156.22 1109.41 160.44 C 1113.37 160.44 1115.75 164.05 1115.62 167.80 C 1115.49 172.23 1111.39 175.29 1105.44 175.16 C 1100.82 175.02 1096.85 174.27 1094.74 172.43 Z" fill="#fdfdfd" stroke="#2158b0" stroke-width="2.3" stroke-linejoin="round"/><path d="M 1109.74 160.58 C 1106.77 160.17 1103.13 161.67 1102.01 165.21" fill="none" stroke="#2158b0" stroke-width="2.3" stroke-linecap="round"/>
</g>
<text class="ar" x="579.8" y="407.7" font-size="23.85" text-anchor="middle" fill="#000">Temperatura (°C)</text>
<clipPath id="c1"><rect x="69.7" y="417.7" width="1025.0" height="196.7"/></clipPath>
<g clip-path="url(#c1)">
<polygon points="69.7,504.4 148.6,481.2 227.4,534.8 306.2,561.3 385.1,566.6 463.9,552.5 542.8,547.2 621.6,546.2 700.5,544.1 779.4,547.9 858.2,551.4 937.0,547.5 1015.9,541.4 1094.8,540.9 1094.8,600.2 1015.9,593.0 937.0,592.4 858.2,587.6 779.4,584.0 700.5,580.8 621.6,581.9 542.8,582.9 463.9,590.3 385.1,599.7 306.2,585.5 227.4,579.5 148.6,509.2 69.7,514.9" fill="#6495ed" fill-opacity="0.5"/>
<polygon points="69.7,441.9 148.6,438.8 227.4,464.5 306.2,486.0 385.1,480.5 463.9,479.3 542.8,478.1 621.6,477.0 700.5,475.3 779.4,481.2 858.2,486.5 937.0,489.6 1015.9,489.6 1094.8,489.6 1094.8,549.3 1015.9,542.0 937.0,534.6 858.2,523.1 779.4,519.0 700.5,511.7 621.6,512.7 542.8,515.4 463.9,517.9 385.1,513.8 306.2,510.6 227.4,508.5 148.6,466.1 69.7,452.0" fill="#32cd32" fill-opacity="0.4"/>
<line x1="69.7" x2="1094.7" y1="568.8" y2="568.8" stroke="#000" stroke-opacity="0.145" stroke-width="2"/><line x1="69.7" x2="1094.7" y1="523.1" y2="523.1" stroke="#000" stroke-opacity="0.145" stroke-width="2"/><line x1="69.7" x2="1094.7" y1="477.5" y2="477.5" stroke="#000" stroke-opacity="0.145" stroke-width="2"/><line x1="69.7" x2="1094.7" y1="431.9" y2="431.9" stroke="#000" stroke-opacity="0.145" stroke-width="2"/><line x1="227.4" x2="227.4" y1="417.7" y2="614.4" stroke="#000" stroke-opacity="0.145" stroke-width="2"/><line x1="385.1" x2="385.1" y1="417.7" y2="614.4" stroke="#000" stroke-opacity="0.145" stroke-width="2"/><line x1="542.8" x2="542.8" y1="417.7" y2="614.4" stroke="#000" stroke-opacity="0.145" stroke-width="2"/><line x1="700.5" x2="700.5" y1="417.7" y2="614.4" stroke="#000" stroke-opacity="0.145" stroke-width="2"/><line x1="858.2" x2="858.2" y1="417.7" y2="614.4" stroke="#000" stroke-opacity="0.145" stroke-width="2"/><line x1="1015.9" x2="1015.9" y1="417.7" y2="614.4" stroke="#000" stroke-opacity="0.145" stroke-width="2"/>
<line x1="69.7" x2="74.7" y1="605.3" y2="605.3" stroke="#222" stroke-width="0.7"/><line x1="69.7" x2="74.7" y1="596.1" y2="596.1" stroke="#222" stroke-width="0.7"/><line x1="69.7" x2="74.7" y1="587.0" y2="587.0" stroke="#222" stroke-width="0.7"/><line x1="69.7" x2="74.7" y1="577.9" y2="577.9" stroke="#222" stroke-width="0.7"/><line x1="69.7" x2="74.7" y1="559.6" y2="559.6" stroke="#222" stroke-width="0.7"/><line x1="69.7" x2="74.7" y1="550.5" y2="550.5" stroke="#222" stroke-width="0.7"/><line x1="69.7" x2="74.7" y1="541.4" y2="541.4" stroke="#222" stroke-width="0.7"/><line x1="69.7" x2="74.7" y1="532.3" y2="532.3" stroke="#222" stroke-width="0.7"/><line x1="69.7" x2="74.7" y1="514.0" y2="514.0" stroke="#222" stroke-width="0.7"/><line x1="69.7" x2="74.7" y1="504.9" y2="504.9" stroke="#222" stroke-width="0.7"/><line x1="69.7" x2="74.7" y1="495.8" y2="495.8" stroke="#222" stroke-width="0.7"/><line x1="69.7" x2="74.7" y1="486.6" y2="486.6" stroke="#222" stroke-width="0.7"/><line x1="69.7" x2="74.7" y1="468.4" y2="468.4" stroke="#222" stroke-width="0.7"/><line x1="69.7" x2="74.7" y1="459.3" y2="459.3" stroke="#222" stroke-width="0.7"/><line x1="69.7" x2="74.7" y1="450.1" y2="450.1" stroke="#222" stroke-width="0.7"/><line x1="69.7" x2="74.7" y1="441.0" y2="441.0" stroke="#222" stroke-width="0.7"/><line x1="69.7" x2="74.7" y1="422.8" y2="422.8" stroke="#222" stroke-width="0.7"/>
<polyline points="69.7,447.7 148.6,452.9 227.4,486.5 306.2,498.4 385.1,497.0 463.9,498.8 542.8,497.0 621.6,494.9 700.5,493.1 779.4,500.1 858.2,504.3 937.0,512.0 1015.9,516.2 1094.8,519.6" fill="none" stroke="#ff0000" stroke-width="5.4" stroke-linejoin="round"/>
<polyline points="69.7,509.6 148.6,495.3 227.4,557.9 306.2,573.5 385.1,582.9 463.9,571.4 542.8,565.1 621.6,564.0 700.5,561.9 779.4,566.1 858.2,570.0 937.0,570.1 1015.9,566.6 1094.8,570.3" fill="none" stroke="#1e90ff" stroke-width="5.4" stroke-linejoin="round"/>
</g>
<rect x="69.7" y="417.7" width="1025.0" height="196.7" fill="none" stroke="#0d0d0d" stroke-width="1.2"/>
<g class="dv" font-size="18.67" text-anchor="end" fill="#000"><text x="64.4" y="575.7">5</text><text x="64.4" y="530.0">10</text><text x="64.4" y="484.4">15</text><text x="64.4" y="438.8">20</text></g>
<text class="ar" x="750.3" y="484" font-size="19.2" fill="#0000ff" stroke="#0000ff" stroke-width="0.25">© vreme.us &amp; vreme.pro</text>
<text class="ar" x="578.4" y="667.5" font-size="23.76" text-anchor="middle" fill="#000">Količina padavin (mm) / Možnost padavin (%)</text>
<g class="dv" font-size="20" text-anchor="middle" fill="#000"><text transform="translate(68.3 693.5) scale(0.975 1)" font-size="20" fill="#000">sob</text><text transform="translate(148.4 693.5) scale(0.975 1)" font-size="20" fill="#000">ned</text><text transform="translate(227.3 693.5) scale(0.975 1)" font-size="20" fill="#000">pon</text><text transform="translate(305.9 693.5) scale(0.975 1)" font-size="20" fill="#000">tor</text><text transform="translate(383.8 693.5) scale(0.975 1)" font-size="20" fill="#000">sre</text><text transform="translate(463.0 693.5) scale(0.975 1)" font-size="20" fill="#000">čet</text><text transform="translate(543.1 693.5) scale(0.975 1)" font-size="20" fill="#000">pet</text><text transform="translate(621.2 693.5) scale(0.975 1)" font-size="20" fill="#000">sob</text><text transform="translate(700.4 693.5) scale(0.975 1)" font-size="20" fill="#000">ned</text><text transform="translate(779.3 693.5) scale(0.975 1)" font-size="20" fill="#000">pon</text><text transform="translate(857.8 693.5) scale(0.975 1)" font-size="20" fill="#000">tor</text><text transform="translate(935.8 693.5) scale(0.975 1)" font-size="20" fill="#000">sre</text><text transform="translate(1015.0 693.5) scale(0.975 1)" font-size="20" fill="#000">čet</text><text transform="translate(1095.1 693.5) scale(0.975 1)" font-size="20" fill="#000">pet</text></g>
<clipPath id="c2"><rect x="69.7" y="700.7" width="1025.0" height="196.3"/></clipPath>
<g clip-path="url(#c2)">
<line x1="69.7" x2="1094.7" y1="706.1" y2="706.1" stroke="#000" stroke-opacity="0.145" stroke-width="2"/><line x1="69.7" x2="1094.7" y1="769.0" y2="769.0" stroke="#000" stroke-opacity="0.145" stroke-width="2"/><line x1="69.7" x2="1094.7" y1="832.9" y2="832.9" stroke="#000" stroke-opacity="0.145" stroke-width="2"/><line x1="227.4" x2="227.4" y1="700.7" y2="897.0" stroke="#000" stroke-opacity="0.145" stroke-width="2"/><line x1="385.1" x2="385.1" y1="700.7" y2="897.0" stroke="#000" stroke-opacity="0.145" stroke-width="2"/><line x1="542.8" x2="542.8" y1="700.7" y2="897.0" stroke="#000" stroke-opacity="0.145" stroke-width="2"/><line x1="700.5" x2="700.5" y1="700.7" y2="897.0" stroke="#000" stroke-opacity="0.145" stroke-width="2"/><line x1="858.2" x2="858.2" y1="700.7" y2="897.0" stroke="#000" stroke-opacity="0.145" stroke-width="2"/><line x1="1015.9" x2="1015.9" y1="700.7" y2="897.0" stroke="#000" stroke-opacity="0.145" stroke-width="2"/>
<rect x="122.7" y="895.4" width="51.8" height="1.6" fill="#0050ff"/><rect x="201.5" y="800.9" width="51.8" height="96.1" fill="#0050ff"/>
<path d="M 148.6 874.3 V 897.0 M 138.6 874.3 H 158.6" stroke="#808080" stroke-width="3.2" fill="none"/><path d="M 227.4 711.4 V 890.4 M 217.4 711.4 H 237.4 M 217.4 890.4 H 237.4" stroke="#808080" stroke-width="3.2" fill="none"/>
<line x1="59.7" x2="79.7" y1="897.0" y2="897.0" stroke="#444" stroke-width="3"/><line x1="296.2" x2="316.2" y1="897.0" y2="897.0" stroke="#444" stroke-width="3"/><line x1="375.1" x2="395.1" y1="897.0" y2="897.0" stroke="#444" stroke-width="3"/><line x1="453.9" x2="473.9" y1="897.0" y2="897.0" stroke="#444" stroke-width="3"/><line x1="532.8" x2="552.8" y1="897.0" y2="897.0" stroke="#444" stroke-width="3"/><line x1="611.6" x2="631.6" y1="897.0" y2="897.0" stroke="#444" stroke-width="3"/><line x1="690.5" x2="710.5" y1="897.0" y2="897.0" stroke="#444" stroke-width="3"/><line x1="769.4" x2="789.4" y1="897.0" y2="897.0" stroke="#444" stroke-width="3"/><line x1="848.2" x2="868.2" y1="897.0" y2="897.0" stroke="#444" stroke-width="3"/><line x1="927.0" x2="947.0" y1="897.0" y2="897.0" stroke="#444" stroke-width="3"/><line x1="1005.9" x2="1025.9" y1="897.0" y2="897.0" stroke="#444" stroke-width="3"/><line x1="1084.8" x2="1104.8" y1="897.0" y2="897.0" stroke="#444" stroke-width="3"/>
</g>
<rect x="69.7" y="700.7" width="1025.0" height="196.3" fill="none" stroke="#0d0d0d" stroke-width="1.2"/>
<g class="dv" font-size="18.67" text-anchor="end" fill="#000"><text x="64.1" y="712.5">30</text><text x="64.1" y="776.6">20</text><text x="64.1" y="840.7">10</text><text x="65.6" y="892.7">0</text></g>
<g class="dv" font-size="24" text-anchor="middle"><text transform="translate(69.4 926.6) scale(0.975 1)" font-size="24" fill="#5cd4e4">0%</text><text transform="translate(148.2 926.6) scale(0.975 1)" font-size="24" fill="#1660b8">65%</text><text transform="translate(227.1 926.6) scale(0.975 1)" font-size="24" fill="#3399cc">40%</text><text transform="translate(305.9 926.6) scale(0.975 1)" font-size="24" fill="#5cd4e4">0%</text><text transform="translate(384.8 926.6) scale(0.975 1)" font-size="24" fill="#5cd4e4">0%</text><text transform="translate(463.6 926.6) scale(0.975 1)" font-size="24" fill="#5cd4e4">0%</text><text transform="translate(542.5 926.6) scale(0.975 1)" font-size="24" fill="#5cd4e4">5%</text><text transform="translate(621.4 926.6) scale(0.975 1)" font-size="24" fill="#5cd4e4">5%</text><text transform="translate(700.2 926.6) scale(0.975 1)" font-size="24" fill="#3399cc">15%</text><text transform="translate(779.1 926.6) scale(0.975 1)" font-size="24" fill="#3399cc">15%</text><text transform="translate(857.9 926.6) scale(0.975 1)" font-size="24" fill="#3399cc">10%</text><text transform="translate(936.8 926.6) scale(0.975 1)" font-size="24" fill="#3399cc">30%</text><text transform="translate(1015.6 926.6) scale(0.975 1)" font-size="24" fill="#3399cc">45%</text><text transform="translate(1094.5 926.6) scale(0.975 1)" font-size="24" fill="#3399cc">40%</text></g>
</svg>
</body></html>
